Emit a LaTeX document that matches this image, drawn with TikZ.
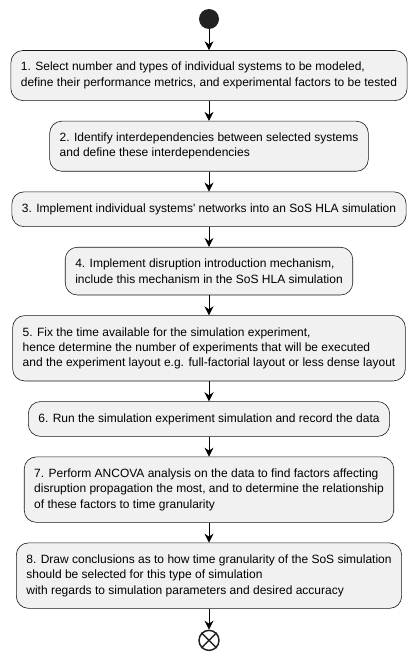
\documentclass[tikz,border=0pt]{standalone}
\usepackage{fontspec}
\setmainfont{Liberation Sans}
\usetikzlibrary{positioning}
\usetikzlibrary{arrows.meta}
\definecolor{boxFill}{HTML}{F1F1F1}
\definecolor{boxLine}{HTML}{181818}
\definecolor{dotFill}{HTML}{222222}
\tikzset{
  stepBox/.style={%
    draw=boxLine, fill=boxFill, rounded corners=12pt, align=left,
    inner xsep=10pt, inner ysep=11.8pt, line width=0.6pt,
    font=\fontsize{12}{15.3}\selectfont,
  },
  startDot/.style={%
    circle, fill=dotFill, minimum size=20pt, inner sep=0pt,
  },
  endDot/.style={%
    circle, draw=dotFill, line width=1.5pt, minimum size=20pt, inner sep=0pt,
  },
  flowArrow/.style={%
    -{Stealth[length=9pt,width=9pt,inset=3pt]}, line width=0.8pt,
  }
}

\begin{document}
\begin{tikzpicture}[x=1pt, y=1pt, node distance=20pt]
                \useasboundingbox (0,0) rectangle (417,-656);
                \node[startDot]
                  (start) at (209,-19) {};
                \node[stepBox, below=21pt of start]
                  (step1) {1. Select number and types of individual systems to be modeled,\\
                  define their performance metrics, and experimental factors to be tested};
                \node[stepBox, below=of step1]
                  (step2) {2. Identify interdependencies between selected systems\\
                  and define these interdependencies};
                \node[stepBox, below=of step2]
                  (step3) {3. Implement individual systems\textquotesingle{} networks into an SoS HLA simulation};
                \node[stepBox, below=of step3]
                  (step4) {4. Implement disruption introduction mechanism,\\
                  include this mechanism in the SoS HLA simulation};
                \node[stepBox, below=of step4]
                  (step5) {5. Fix the time available for the simulation experiment,\\
                  hence determine the number of experiments that will be executed\\
                  and the experiment layout e.g. full-factorial layout or less dense layout};
                \node[stepBox, below=of step5]
                  (step6) {6. Run the simulation experiment simulation and record the data};
                \node[stepBox, below=of step6]
                  (step7) {7. Perform ANCOVA analysis on the data to find factors affecting\\
                  disruption propagation the most, and to determine the relationship\\
                  of these factors to time granularity};
                \node[stepBox, below=of step7]
                  (step8) {8. Draw conclusions as to how time granularity of the SoS simulation\\
                  should be selected for this type of simulation\\
                  with regards to simulation parameters and desired accuracy};
                \node[endDot, below=21pt of step8]
                  (stop) {};
                \draw[dotFill, line width=1.5pt]
                  (stop.45) -- (stop.225)
                  (stop.135) -- (stop.315)
                  ;
                \draw[flowArrow]
                  (start) edge (step1)
                  (step1) edge (step2)
                  (step2) edge (step3)
                  (step3) edge (step4)
                  (step4) edge (step5)
                  (step5) edge (step6)
                  (step6) edge (step7)
                  (step7) edge (step8)
                  (step8) edge (stop)
                  ;
              \end{tikzpicture}
\end{document}
